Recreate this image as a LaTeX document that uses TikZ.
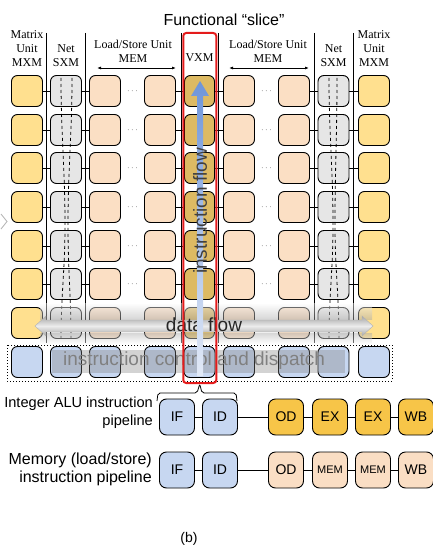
\documentclass[tikz,border=0pt]{standalone}
\usepackage{fontspec}
\setmainfont{Liberation Serif}
\setsansfont{Liberation Sans}
\usetikzlibrary{arrows.meta}
\definecolor{mxmfill}{HTML}{FFE08F}
\definecolor{sxmfill}{HTML}{E6E6E6}
\definecolor{memfill}{HTML}{FBDFC4}
\definecolor{vxmfill}{HTML}{DDBA63}
\definecolor{ctlfill}{HTML}{C7D7F1}
\definecolor{alufill}{HTML}{F7C548}
\definecolor{mempipe}{HTML}{FADEC4}
\definecolor{slicered}{HTML}{E41B1B}
\definecolor{flowblue}{HTML}{6E95D9}
\tikzset{
  unit/.style={draw, rounded corners=6pt, line width=0.9pt, minimum width=31pt,
               minimum height=31pt, inner sep=0pt},
  mxmbox/.style={unit, fill=mxmfill},
  sxmbox/.style={unit, fill=sxmfill},
  membox/.style={unit, fill=memfill},
  vxmbox/.style={unit, fill=vxmfill, minimum width=30pt},
  ctlbox/.style={unit, fill=ctlfill},
  link/.style={line width=0.8pt},
  headlabel/.style={font=\fontsize{12}{14}\selectfont, align=center, inner sep=0pt},
  stagebox/.style={draw, rounded corners=7pt, line width=0.9pt, minimum width=35pt,
                   minimum height=36pt, inner sep=0pt, font=\sffamily\fontsize{14}{16}\selectfont},
  ifbox/.style={stagebox, fill=ctlfill},
  alubox/.style={stagebox, fill=alufill},
  lsbox/.style={stagebox, fill=mempipe},
  pipelabel/.style={font=\sffamily\fontsize{16}{18}\selectfont, align=right, anchor=east, inner sep=0pt},
  bigtext/.style={font=\sffamily\fontsize{19}{19}\selectfont, inner sep=0pt},
}

\begin{document}
\begin{tikzpicture}[x=1pt, y=-1pt]
    \useasboundingbox (0,0) rectangle (432,559);
    % title and column heads
    \node[font=\sffamily\fontsize{16}{16}\selectfont] (title) at (224,20) {Functional “slice”};
    \node[headlabel] (mxl-h) at (27,49) {Matrix\\Unit\\MXM};
    \node[headlabel] (sxl-h) at (66,56) {Net\\SXM};
    \node[headlabel] (mla-h) at (133,51) {Load/Store Unit\\MEM};
    \node[headlabel] (vxm-h) at (199.5,58) {VXM};
    \node[headlabel] (mra-h) at (268,51) {Load/Store Unit\\MEM};
    \node[headlabel] (sxr-h) at (333.5,56) {Net\\SXM};
    \node[headlabel] (mxr-h) at (374,49) {Matrix\\Unit\\MXM};
    \coordinate (la-w) at (97,68);
    \coordinate (la-e) at (176,68);
    \coordinate (ra-w) at (229,68);
    \coordinate (ra-e) at (309,68);
    \draw[{Latex[length=4pt,width=3pt]}-{Latex[length=4pt,width=3pt]}, line width=0.8pt] (la-w) -- (la-e);
    \draw[{Latex[length=4pt,width=3pt]}-{Latex[length=4pt,width=3pt]}, line width=0.8pt] (ra-w) -- (ra-e);

    % column separators
    \foreach \x in {46,85.5,181.5,218,314,353}
      \draw[line width=0.8pt] (\x,33) -- (\x,343);
    \draw[gray!60, line width=0.8pt] (1,214) -- (7,221.5) -- (1,229);

    % unit grid
    \foreach \r/\y in {1/91,2/130,3/168,4/207,5/246,6/284,7/323} {
      \node[mxmbox] (mxl-\r) at (27,\y) {};
      \node[sxmbox] (sxl-\r) at (66,\y) {};
      \node[membox] (mla-\r) at (105,\y) {};
      \node[membox] (mlb-\r) at (160,\y) {};
      \node[vxmbox] (vxm-\r) at (199.5,\y) {};
      \node[membox] (mra-\r) at (239,\y) {};
      \node[membox] (mrb-\r) at (294,\y) {};
      \node[sxmbox] (sxr-\r) at (333.5,\y) {};
      \node[mxmbox] (mxr-\r) at (374,\y) {};
      \node[text=black!70, font=\small] (dl-\r) at (132.5,\y) {$\cdots$};
      \node[text=black!70, font=\small] (dr-\r) at (266.5,\y) {$\cdots$};
      \draw[link] (mxl-\r) -- (sxl-\r);
      \draw[link] (sxl-\r) -- (mla-\r);
      \draw[link] (mlb-\r) -- (vxm-\r);
      \draw[link] (vxm-\r) -- (mra-\r);
      \draw[link] (mrb-\r) -- (sxr-\r);
      \draw[link] (sxr-\r) -- (mxr-\r);
    }
    % switch paths through the SXM columns
    \draw[dashed, line width=0.8pt] (61,78) to[out=-90, in=90] (65,225) to[out=-90, in=90] (61,340);
    \draw[dashed, line width=0.8pt] (72,78) to[out=-90, in=90] (68,225) to[out=-90, in=90] (71,340);
    \draw[dashed, line width=0.8pt] (329,78) to[out=-90, in=90] (333,225) to[out=-90, in=90] (329,340);
    \draw[dashed, line width=0.8pt] (337,78) to[out=-90, in=90] (335,225) to[out=-90, in=90] (339,340);

    % instruction control row
    \draw[dotted, line width=1pt] (7,345) rectangle (392,381);
    \foreach \c/\x in {1/27,2/66,3/105,4/160,5/199.5,6/239,7/294,8/333.5,9/374}
      \node[ctlbox] (ctl-\c) at (\x,362) {};

    % data flow
    \shade[top color=white, bottom color=gray!70, opacity=0.45] (40,303) rectangle (372,319);
    \shade[top color=gray!70, bottom color=white, opacity=0.45] (40,333) rectangle (372,344);
    \shade[top color=gray!70, bottom color=gray!70, middle color=gray!15, draw=gray!60]
      (35,326) -- (46,316) -- (46,320) -- (362,320) -- (362,316) -- (373,326)
      -- (362,336) -- (362,332) -- (46,332) -- (46,336) -- cycle;
    \node[bigtext, text=black!85] (dflow) at (204,325) {data flow};

    \fill[gray, opacity=0.35] (52,350) rectangle (345,373);
    \node[bigtext, text=gray] (ctl-t) at (194,361) {instruction control and dispatch};

    % instruction flow
    \shade[top color=flowblue, bottom color=flowblue!20]
      (197,376) -- (197,96) -- (191,96) -- (200,81) -- (209,96) -- (203,96) -- (203,376) -- cycle;
    \node[draw=slicered, line width=2pt, rounded corners=3pt, minimum width=33pt,
          minimum height=350pt, inner sep=0pt] (slice) at (199.75,208) {};
    \node[bigtext, text=black!75, rotate=90] (iflow) at (200,211) {instruction flow};
    \draw[line width=0.8pt, rounded corners=2pt] (157,401) -- (158,393) -- (197,393)
      -- (slice.south) -- (202,393) -- (236,393) -- (237,401);

    % pipelines
    \node[pipelabel, font=\sffamily\fontsize{14.6}{18}\selectfont] (alu-t) at (153,413) {Integer ALU instruction\\pipeline};
    \node[ifbox] (if1) at (177,417) {IF};
    \node[ifbox] (id1) at (220,417) {ID};
    \node[alubox] (od1) at (286,417) {OD};
    \node[alubox] (ex1) at (330,417) {EX};
    \node[alubox] (ex2) at (373,417) {EX};
    \node[alubox] (wb1) at (416,417) {WB};
    \draw[link] (if1) -- (id1);
    \draw[link] (id1) -- (od1);
    \draw[link] (od1) -- (ex1);
    \draw[link] (ex1) -- (ex2);
    \draw[link] (ex2) -- (wb1);

    \node[pipelabel] (ls-t) at (152,469) {Memory (load/store)\\instruction pipeline};
    \node[ifbox] (if2) at (177,470) {IF};
    \node[ifbox] (id2) at (220,470) {ID};
    \node[lsbox] (od2) at (286,470) {OD};
    \node[lsbox, font=\sffamily\fontsize{11}{12}\selectfont] (mem1) at (330,470) {MEM};
    \node[lsbox, font=\sffamily\fontsize{11}{12}\selectfont] (mem2) at (373,470) {MEM};
    \node[lsbox] (wb2) at (416,470) {WB};
    \draw[link] (if2) -- (id2);
    \draw[link] (id2) -- (od2);
    \draw[link] (od2) -- (mem1);
    \draw[link] (mem1) -- (mem2);
    \draw[link] (mem2) -- (wb2);

    \node[font=\sffamily\fontsize{14}{14}\selectfont] (cap) at (189,539) {(b)};
  \end{tikzpicture}
\end{document}
